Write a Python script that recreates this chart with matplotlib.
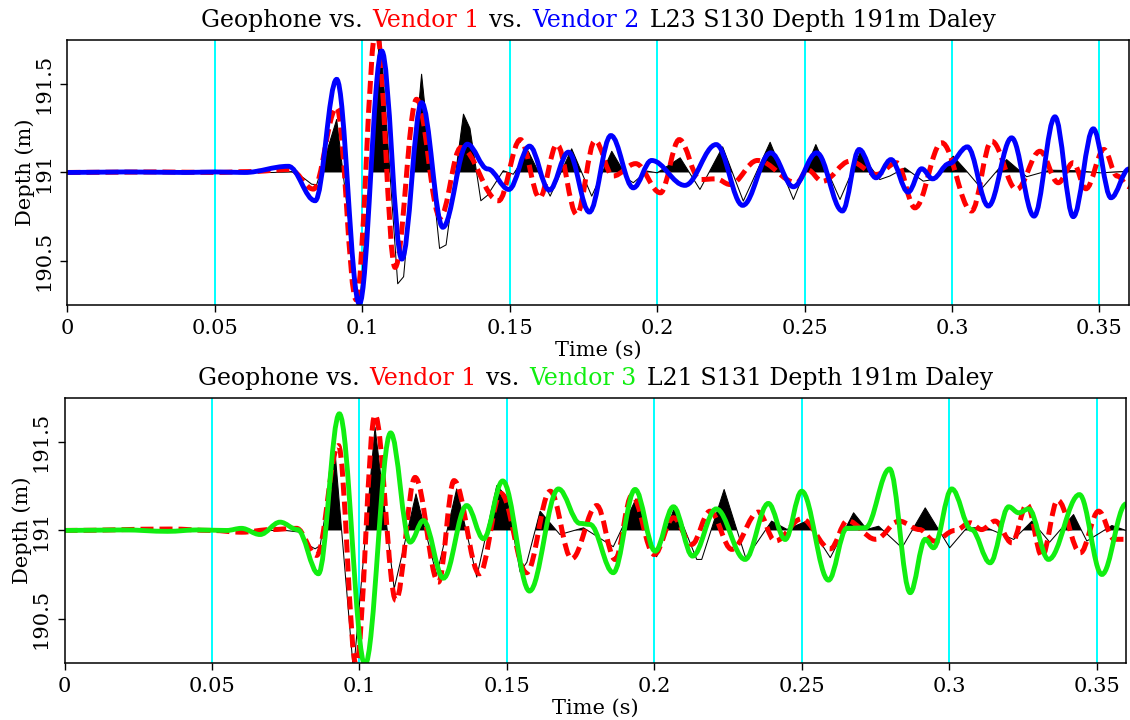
import matplotlib
matplotlib.use("Agg")
import matplotlib.pyplot as plt
from matplotlib.path import Path
from matplotlib.patches import PathPatch
from matplotlib.offsetbox import TextArea, HPacker, AnchoredOffsetbox

plt.rcParams['font.family'] = 'DejaVu Serif'

DEPTH = 191.0

# top panel: L23 S130
top_geo_t = [0.0, 0.070, 0.076, 0.080, 0.0828, 0.0845, 0.0913, 0.0990, 0.1060, 0.1120, 0.1140,
             0.1201, 0.1262, 0.1284, 0.1343, 0.1365, 0.1402, 0.1424, 0.1478, 0.1512, 0.1563,
             0.1637, 0.1710, 0.1778, 0.1846, 0.1902, 0.1919, 0.1965, 0.2000, 0.2078, 0.2145,
             0.2222, 0.2292, 0.2383, 0.2462, 0.2538, 0.2620, 0.2688, 0.2755, 0.2789, 0.2840,
             0.2902, 0.2936, 0.3004, 0.3049, 0.3100, 0.3185, 0.3253, 0.3332, 0.3423, 0.3502, 0.3600]
top_geo_v = [0.0, 0.0, 0.005, -0.03, -0.066, -0.07, 0.30, -0.78, 0.80, -0.63, -0.59,
             0.556, -0.43, -0.41, 0.33, 0.25, -0.16, -0.13, 0.01, -0.01, 0.12,
             -0.134, 0.134, -0.134, 0.12, -0.04, -0.058, 0.008, -0.002, 0.083, -0.096,
             0.145, -0.162, 0.171, -0.153, 0.158, -0.153, 0.111, -0.04, -0.02, 0.026,
             -0.049, -0.04, 0.092, 0.008, -0.092, 0.073, -0.024, 0.013, 0.01, -0.002, 0.006]

top_v1_t = [0.0, 0.030, 0.050, 0.062, 0.0755, 0.0834, 0.0913, 0.0979, 0.1047, 0.1111, 0.1184,
            0.1264, 0.1334, 0.1462, 0.1536, 0.1601, 0.1660, 0.1727, 0.1789, 0.1850, 0.1927,
            0.2011, 0.2075, 0.2145, 0.2200, 0.2247, 0.2340, 0.2473, 0.2510, 0.2560, 0.2654,
            0.2744, 0.2812, 0.2874, 0.2965, 0.3066, 0.3134, 0.3219, 0.3298, 0.3360, 0.3411,
            0.3454, 0.3515, 0.3560, 0.3600]
top_v1_v = [0.0, 0.003, 0.0, 0.005, 0.017, -0.094, 0.367, -0.72, 0.82, -0.537, 0.414,
            -0.254, 0.141, -0.16, 0.186, -0.143, 0.158, -0.237, 0.18, -0.02, 0.05,
            -0.115, 0.186, -0.04, -0.036, -0.068, 0.068, -0.058, 0.015, -0.05, 0.064,
            -0.011, 0.055, -0.20, 0.168, -0.218, 0.177, -0.096, 0.12, -0.058, 0.055,
            -0.092, 0.13, -0.02, -0.08]

top_v2_t = [0.0, 0.020, 0.040, 0.050, 0.060, 0.0749, 0.0840, 0.0913, 0.0990, 0.1066, 0.1134,
            0.1201, 0.1273, 0.1356, 0.1425, 0.1497, 0.1567, 0.1634, 0.1699, 0.1770, 0.1843,
            0.1919, 0.1981, 0.2094, 0.2200, 0.2290, 0.2385, 0.2462, 0.2541, 0.2628, 0.2685,
            0.2742, 0.2793, 0.2851, 0.2897, 0.2934, 0.2990, 0.3052, 0.3123, 0.3202, 0.3278,
            0.3349, 0.3411, 0.3479, 0.3539, 0.3600]
top_v2_v = [0.0, 0.003, 0.0, 0.003, 0.0, 0.035, -0.16, 0.527, -0.744, 0.687, -0.49,
            0.395, -0.31, 0.16, 0.02, -0.096, 0.149, -0.10, 0.115, -0.224, 0.209,
            -0.087, 0.068, -0.073, 0.158, -0.186, 0.111, -0.081, 0.111, -0.218, 0.13,
            -0.03, 0.073, -0.111, 0.021, -0.036, 0.05, 0.145, -0.19, 0.196, -0.247,
            0.315, -0.25, 0.247, -0.143, 0.02]

# bottom panel: L21 S131
bot_geo_t = [0.0, 0.075, 0.080, 0.0835, 0.0850, 0.0867, 0.0918, 0.0980, 0.1053, 0.1118, 0.1192,
             0.1262, 0.1330, 0.1398, 0.1466, 0.1500, 0.1545, 0.1568, 0.1613, 0.1680, 0.1760,
             0.1861, 0.1938, 0.2008, 0.2071, 0.2144, 0.2161, 0.2237, 0.2311, 0.2398, 0.2450,
             0.2517, 0.2597, 0.2676, 0.2721, 0.2761, 0.2840, 0.2919, 0.3002, 0.3060, 0.3128,
             0.3219, 0.3281, 0.3341, 0.3422, 0.3467, 0.3552, 0.3600]
bot_geo_v = [0.0, 0.0, -0.01, -0.09, -0.104, -0.085, 0.433, -0.80, 0.584, -0.33, 0.207,
             -0.254, 0.235, -0.264, 0.254, 0.19, -0.235, -0.18, 0.109, -0.023, 0.015,
             -0.092, 0.179, -0.149, 0.141, -0.164, -0.164, 0.232, -0.16, 0.053, 0.006,
             0.053, -0.154, 0.10, 0.006, 0.024, -0.098, 0.128, -0.098, 0.015, 0.015,
             -0.051, 0.053, -0.066, 0.09, -0.06, 0.028, 0.0]

bot_v1_t = [0.0, 0.036, 0.050, 0.060, 0.0700, 0.0787, 0.0855, 0.0929, 0.0989, 0.1053, 0.1124,
            0.1189, 0.1268, 0.1321, 0.1407, 0.1480, 0.1567, 0.1647, 0.1720, 0.1805, 0.1867,
            0.1924, 0.2000, 0.2065, 0.2127, 0.2189, 0.2263, 0.2353, 0.2410, 0.2500, 0.2597,
            0.2655, 0.2751, 0.2830, 0.2900, 0.2950, 0.3020, 0.3072, 0.3110, 0.3156, 0.3213,
            0.3264, 0.3315, 0.3368, 0.3445, 0.3507, 0.3560, 0.3600]
bot_v1_v = [0.0, 0.008, 0.0, -0.01, 0.005, 0.012, -0.141, 0.48, -0.76, 0.653, -0.395,
            0.30, -0.292, 0.282, -0.245, 0.21, -0.239, 0.222, -0.16, 0.141, -0.164,
            0.198, -0.136, 0.072, -0.079, 0.109, -0.107, 0.104, -0.06, 0.066, -0.104,
            0.055, -0.05, 0.053, 0.005, -0.06, 0.0, 0.043, 0.005, 0.053, -0.07,
            0.147, -0.145, 0.171, -0.126, 0.109, -0.05, -0.05]

bot_v3_t = [0.0, 0.020, 0.035, 0.045, 0.055, 0.0600, 0.0663, 0.0731, 0.0790, 0.0861, 0.0932,
            0.1019, 0.1106, 0.1172, 0.1217, 0.1285, 0.1364, 0.1421, 0.1486, 0.1577, 0.1675,
            0.1748, 0.1782, 0.1861, 0.1935, 0.2003, 0.2065, 0.2130, 0.2210, 0.2308, 0.2387,
            0.2444, 0.2500, 0.2591, 0.2653, 0.2716, 0.2798, 0.2868, 0.2919, 0.2947, 0.3009,
            0.3075, 0.3139, 0.3202, 0.3236, 0.3270, 0.3337, 0.3442, 0.3518, 0.3600]
bot_v3_v = [0.0, 0.003, -0.005, 0.003, 0.0, 0.012, -0.023, 0.047, 0.005, -0.245, 0.66,
            -0.76, 0.552, -0.066, 0.056, -0.27, 0.141, -0.047, 0.28, -0.343, 0.235,
            0.04, 0.034, -0.239, 0.232, -0.117, 0.134, -0.145, 0.122, -0.164, 0.153,
            -0.051, 0.222, -0.281, 0.012, 0.015, 0.348, -0.352, -0.05, -0.098, 0.235,
            0.006, -0.183, 0.134, 0.10, 0.122, -0.164, 0.203, -0.249, 0.15]

x_ticks = [0, 0.05, 0.1, 0.15, 0.2, 0.25, 0.3, 0.35]
x_labels = ['0', '0.05', '0.1', '0.15', '0.2', '0.25', '0.3', '0.35']
y_ticks = [190.5, 191, 191.5]
y_labels = ['190.5', '191', '191.5']

RED = '#ff0000'
BLUE = '#0000ff'
GREEN = '#11ee11'


def smooth_path(t, v, base):
    # cubic segments with flat tangents at every picked sample
    verts = [(t[0], base + v[0])]
    codes = [Path.MOVETO]
    for i in range(len(t) - 1):
        dt = t[i + 1] - t[i]
        verts += [(t[i] + 0.364 * dt, base + v[i]),
                  (t[i + 1] - 0.364 * dt, base + v[i + 1]),
                  (t[i + 1], base + v[i + 1])]
        codes += [Path.CURVE4] * 3
    return Path(verts, codes)


def draw_panel(ax, geo_t, geo_v, v1_t, v1_v, vx_t, vx_v, vx_color, title_bits):
    for x in x_ticks[1:]:
        ax.axvline(x, color='#00ffff', lw=1.4, zorder=1)

    geo = [DEPTH + a for a in geo_v]
    ax.fill_between(geo_t, DEPTH, geo, where=[a > 0 for a in geo_v],
                    interpolate=True, color='black', lw=0, zorder=2)
    ax.plot(geo_t, geo, color='black', lw=0.75, zorder=2.5)

    ax.add_patch(PathPatch(smooth_path(v1_t, v1_v, DEPTH), fill=False, ec=RED,
                           lw=3.6, ls=(0, (2.6, 1.2)), zorder=3))
    ax.add_patch(PathPatch(smooth_path(vx_t, vx_v, DEPTH), fill=False, ec=vx_color,
                           lw=3.5, zorder=4))

    ax.set_xlim(0, 0.36)
    ax.set_ylim(190.25, 191.75)
    ax.set_xticks(x_ticks, x_labels)
    ax.set_yticks(y_ticks, y_labels, rotation=90, va='center')
    ax.tick_params(direction='out', length=5, width=1, labelsize=15, pad=5)
    for s in ax.spines.values():
        s.set_linewidth(1.1)
        s.set_zorder(6)

    ax.set_xlabel('Time (s)', fontsize=15)
    ax.xaxis.set_label_coords(0.5, -0.135)
    ax.set_ylabel('Depth (m)', fontsize=15)
    ax.yaxis.label.set_va('center')
    ax.yaxis.set_label_coords(-0.040, 0.5)

    parts = [TextArea(txt, textprops=dict(color=col, fontsize=17)) for txt, col in title_bits]
    box = HPacker(children=parts, align='baseline', pad=0, sep=7)
    anchored = AnchoredOffsetbox(loc='lower center', child=box, pad=0, borderpad=0,
                                 frameon=False, bbox_to_anchor=(0.5, 1.03),
                                 bbox_transform=ax.transAxes)
    ax.add_artist(anchored)


fig = plt.figure(figsize=(11.3, 7.2), dpi=100)
ax1 = fig.add_axes([0.0597, 0.5764, 0.9394, 0.3681])
ax2 = fig.add_axes([0.0571, 0.0792, 0.9394, 0.3681])

draw_panel(ax1, top_geo_t, top_geo_v, top_v1_t, top_v1_v, top_v2_t, top_v2_v, BLUE,
           [('Geophone vs.', 'black'), ('Vendor 1', RED), ('vs.', 'black'),
            ('Vendor 2', BLUE), ('L23 S130 Depth 191m Daley', 'black')])
draw_panel(ax2, bot_geo_t, bot_geo_v, bot_v1_t, bot_v1_v, bot_v3_t, bot_v3_v, GREEN,
           [('Geophone vs.', 'black'), ('Vendor 1', RED), ('vs.', 'black'),
            ('Vendor 3', GREEN), ('L21 S131 Depth 191m Daley', 'black')])

fig.savefig('out.png', dpi=100)
